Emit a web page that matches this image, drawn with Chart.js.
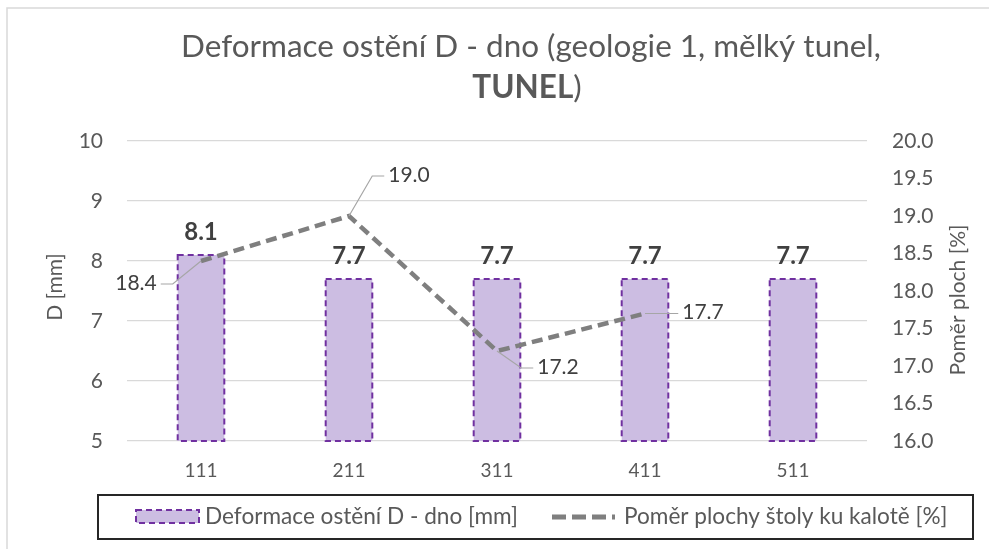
<!DOCTYPE html>
<html>
<head>
<meta charset="utf-8">
<script src="https://cdn.jsdelivr.net/npm/chart.js@4.4.1/dist/chart.umd.min.js"></script>
<style>
  html, body { margin: 0; padding: 0; background: #fff; }
  #wrap { width: 989px; height: 549px; position: relative; }
</style>
</head>
<body>
<div id="wrap"><canvas id="chart" width="989" height="549"></canvas></div>
<script>
// Data
const categories = ['111', '211', '311', '411', '511'];
const deformation = [8.1, 7.7, 7.7, 7.7, 7.7];
const areaRatio = [18.4, 19.0, 17.2, 17.7, null];
const leftTicks = [5, 6, 7, 8, 9, 10];
const rightTicks = [16.0, 16.5, 17.0, 17.5, 18.0, 18.5, 19.0, 19.5, 20.0];

// Texts
const titleLine1 = 'Deformace ostění D - dno (geologie 1, mělký tunel,';
const titleBold = 'TUNEL';
const titleTail = ')';
const leftTitle = 'D [mm]';
const rightTitle = 'Poměr ploch [%]';
const barName = 'Deformace ostění D - dno [mm]';
const lineName = 'Poměr plochy štoly ku kalotě [%]';

// Styles
const FONT = 'Lato, "Open Sans", sans-serif';
const GREY_TEXT = '#595959';
const DARK_TEXT = '#404040';
const BAR_FILL = '#ccbde2';
const BAR_EDGE = '#7030a0';
const LINE_COLOR = '#7f7f7f';
// where each line label sits, relative to its point (label centre dx, dy)
const lineLabelPos = [[-65, 22], [60, -41], [61, 16], [58, -1]];

// scale the font so the text gets the width it has in the reference
function fitSize(ctx, text, weight, width) {
  ctx.font = weight + ' 100px ' + FONT;
  return 100 * width / ctx.measureText(text).width;
}

const extras = {
  id: 'extras',
  beforeDraw(chart) {
    const ctx = chart.ctx;
    ctx.save();
    // frame of the chart area (only top and left are visible)
    ctx.strokeStyle = '#d9d9d9';
    ctx.lineWidth = 1.5;
    ctx.strokeRect(7, 8, 1000, 600);
    ctx.restore();
  },
  afterDatasetDraw(chart, args) {
    if (args.index !== 0) return;
    // dashed outline of the bars (base is below the axis minimum, so clip it)
    const ctx = chart.ctx;
    const bottom = chart.chartArea.bottom;
    ctx.save();
    ctx.strokeStyle = BAR_EDGE;
    ctx.lineWidth = 2;
    ctx.setLineDash([6, 4]);
    args.meta.data.forEach(function(bar) {
      const p = bar.getProps(['x', 'y', 'base', 'width'], true);
      const base = Math.min(p.base, bottom);
      ctx.strokeRect(p.x - p.width / 2, p.y, p.width, base - p.y);
    });
    ctx.restore();
  },
  afterDraw(chart) {
    const ctx = chart.ctx;
    ctx.save();

    // title
    ctx.fillStyle = GREY_TEXT;
    ctx.textBaseline = 'middle';
    ctx.textAlign = 'center';
    const tSize = fitSize(ctx, titleLine1, 'normal', 700);
    ctx.font = 'normal ' + tSize + 'px ' + FONT;
    ctx.fillText(titleLine1, 531, 47);
    ctx.font = 'bold ' + tSize + 'px ' + FONT;
    const wBold = ctx.measureText(titleBold).width;
    ctx.font = 'normal ' + tSize + 'px ' + FONT;
    const wTail = ctx.measureText(titleTail).width;
    const startX = 527 - (wBold + wTail) / 2;
    ctx.textAlign = 'left';
    ctx.font = 'bold ' + tSize + 'px ' + FONT;
    ctx.fillText(titleBold, startX, 88);
    ctx.font = 'normal ' + tSize + 'px ' + FONT;
    ctx.fillText(titleTail, startX + wBold, 88);

    // axis titles, both reading bottom to top
    ctx.textAlign = 'center';
    ctx.font = 'normal 21px ' + FONT;
    [[leftTitle, 55, 287], [rightTitle, 958, 300]].forEach(function(t) {
      ctx.save();
      ctx.translate(t[1], t[2]);
      ctx.rotate(-Math.PI / 2);
      ctx.fillText(t[0], 0, 0);
      ctx.restore();
    });

    // bar value labels
    const barMeta = chart.getDatasetMeta(0);
    ctx.fillStyle = DARK_TEXT;
    ctx.font = 'bold 24px ' + FONT;
    barMeta.data.forEach(function(bar, i) {
      ctx.fillText(deformation[i].toFixed(1), bar.x, bar.y - 23);
    });

    // line value labels with leader lines
    const lineMeta = chart.getDatasetMeta(1);
    ctx.font = 'normal 21px ' + FONT;
    lineMeta.data.forEach(function(pt, i) {
      if (areaRatio[i] == null) return;
      const text = areaRatio[i].toFixed(1);
      const lx = pt.x + lineLabelPos[i][0];
      const ly = pt.y + lineLabelPos[i][1];
      const w = ctx.measureText(text).width;
      const s = lineLabelPos[i][0] > 0 ? 1 : -1;
      const edge = lx - s * (w / 2 + 4);
      ctx.strokeStyle = '#a6a6a6';
      ctx.lineWidth = 1.2;
      ctx.beginPath();
      ctx.moveTo(pt.x, pt.y);
      ctx.lineTo(edge - s * 12, ly + 1);
      ctx.lineTo(edge, ly + 1);
      ctx.stroke();
      ctx.fillStyle = DARK_TEXT;
      ctx.fillText(text, lx, ly);
    });

    // legend
    ctx.strokeStyle = '#262626';
    ctx.lineWidth = 2;
    ctx.strokeRect(98, 495, 875, 44);
    ctx.fillStyle = BAR_FILL;
    ctx.fillRect(136, 510, 63, 13);
    ctx.strokeStyle = BAR_EDGE;
    ctx.setLineDash([6, 4]);
    ctx.strokeRect(136, 510, 63, 13);
    ctx.strokeStyle = LINE_COLOR;
    ctx.lineWidth = 5;
    ctx.setLineDash([14, 6]);
    ctx.beginPath();
    ctx.moveTo(552, 517);
    ctx.lineTo(615, 517);
    ctx.stroke();
    ctx.setLineDash([]);
    ctx.fillStyle = GREY_TEXT;
    ctx.textAlign = 'left';
    const lSize = fitSize(ctx, barName, 'normal', 313);
    ctx.font = 'normal ' + lSize + 'px ' + FONT;
    ctx.fillText(barName, 205, 517);
    ctx.fillText(lineName, 624, 517);

    ctx.restore();
  }
};

new Chart(document.getElementById('chart'), {
  type: 'bar',
  data: {
    labels: categories,
    datasets: [
      {
        label: barName,
        data: deformation,
        backgroundColor: BAR_FILL,
        borderWidth: 0,
        barPercentage: 0.315,
        categoryPercentage: 1,
        yAxisID: 'y',
        order: 1
      },
      {
        type: 'line',
        label: lineName,
        data: areaRatio,
        borderColor: LINE_COLOR,
        borderWidth: 4.5,
        borderDash: [11, 6],
        pointRadius: 0,
        fill: false,
        tension: 0,
        yAxisID: 'y1',
        order: 0
      }
    ]
  },
  options: {
    responsive: false,
    animation: false,
    devicePixelRatio: 1,
    layout: { padding: { top: 141, bottom: 0, left: 0, right: 0 } },
    plugins: {
      legend: { display: false },
      title: { display: false },
      tooltip: { enabled: false }
    },
    scales: {
      x: {
        grid: { display: false },
        border: { display: false },
        ticks: { color: GREY_TEXT, font: { family: FONT, size: 19 }, padding: 10 },
        afterFit: function(s) { s.height = 108; }
      },
      y: {
        position: 'left',
        min: leftTicks[0],
        max: leftTicks[leftTicks.length - 1],
        ticks: { stepSize: leftTicks[1] - leftTicks[0], color: GREY_TEXT, font: { family: FONT, size: 21 }, padding: 24 },
        grid: { color: '#d9d9d9', lineWidth: 1.2, drawTicks: false },
        border: { display: false },
        afterFit: function(s) { s.width = 127; }
      },
      y1: {
        position: 'right',
        min: rightTicks[0],
        max: rightTicks[rightTicks.length - 1],
        ticks: {
          stepSize: rightTicks[1] - rightTicks[0],
          color: GREY_TEXT,
          font: { family: FONT, size: 21 },
          padding: 25,
          callback: function(v) { return v.toFixed(1); }
        },
        grid: { display: false, drawTicks: false },
        border: { display: false },
        afterFit: function(s) { s.width = 122; }
      }
    }
  },
  plugins: [extras]
});
</script>
</body>
</html>
